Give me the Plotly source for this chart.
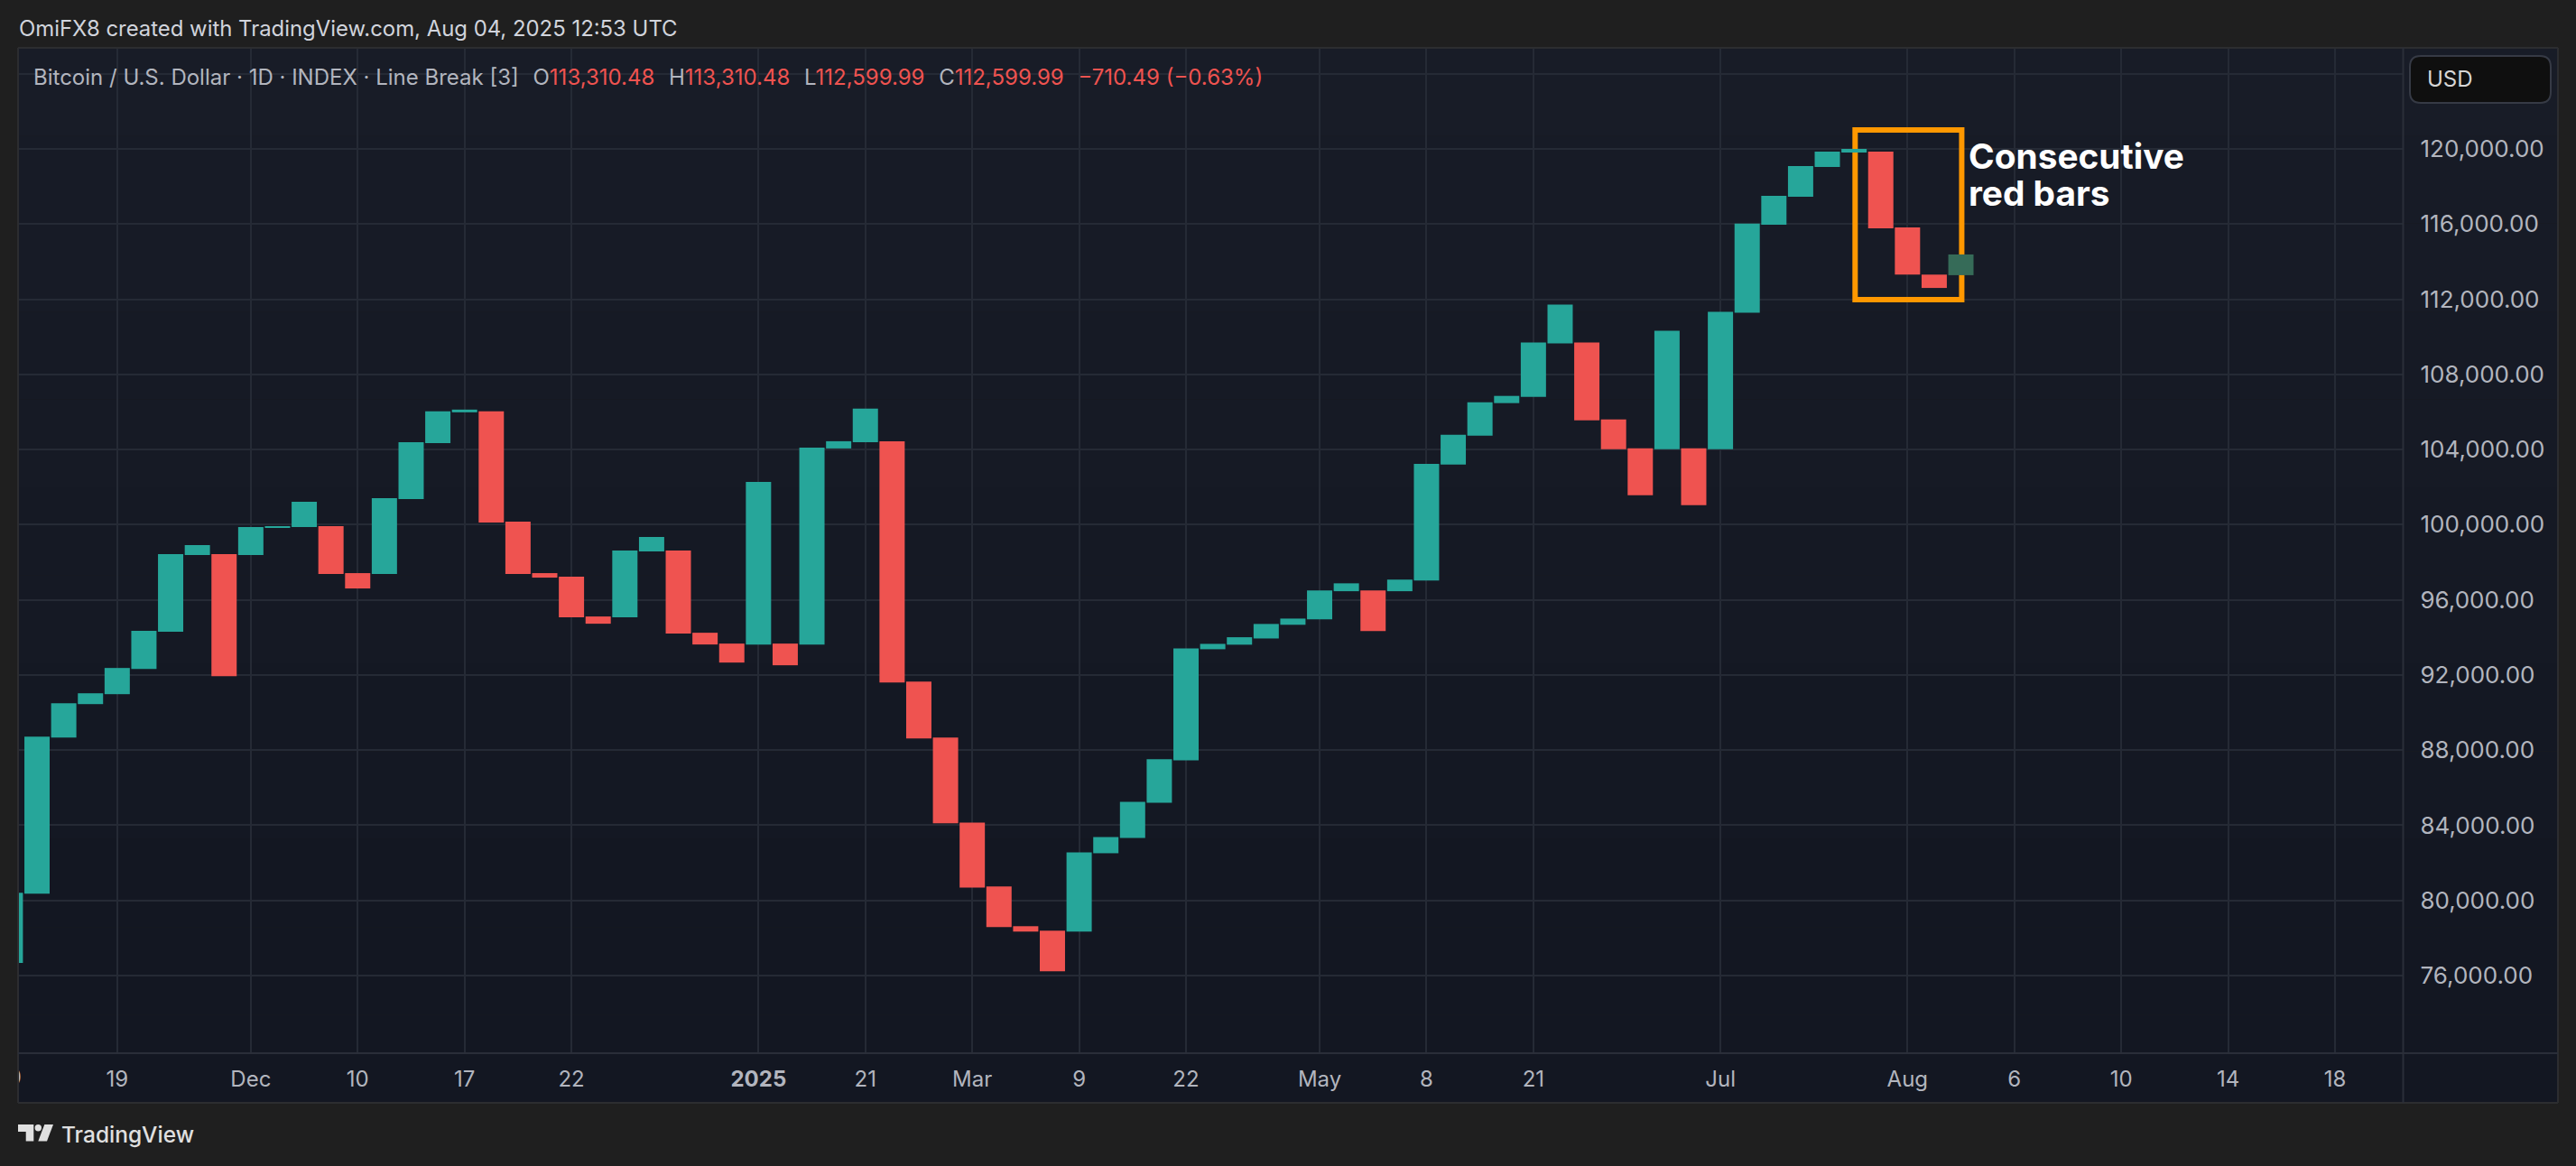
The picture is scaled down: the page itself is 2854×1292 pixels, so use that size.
import plotly.graph_objects as go

# line break bars, oldest first
bar_open = [76670, 80356, 88667, 90447, 90976, 92323, 94294, 98382, 98430, 98382,
            99825, 99873, 99921, 97420, 97372, 101364, 104345, 105980, 106028, 100161,
            97420, 97228, 95112, 95064, 98574, 98622, 94246, 93669, 93621, 93669,
            93621, 104057, 104393, 104441, 91646, 88667, 84142, 80744, 78625, 78382,
            78338, 82509, 83326, 85202, 87453, 93368, 93610, 93941, 94670, 94957,
            96457, 96502, 96457, 97031, 103200, 104738, 106470, 106806, 109644, 109692,
            105604, 104065, 104017, 104065, 104017, 111279, 115968, 117456, 119040, 119808,
            119856, 115824, 113310.48]
bar_close = [80404, 88717, 90495, 91024, 92371, 94342, 98430, 98911, 91938, 99873,
             99921, 101219, 97372, 96603, 101412, 104393, 106028, 106124, 100113, 97372,
             97180, 95064, 94727, 98622, 99344, 94198, 93621, 92659, 102277, 92515,
             104105, 104441, 106173, 91602, 88623, 84098, 80677, 78581, 78338, 76219,
             82553, 83370, 85246, 87519, 93412, 93654, 94008, 94714, 95001, 96502,
             96877, 94339, 97075, 103240, 104786, 106518, 106854, 109692, 111711, 105556,
             104017, 101564, 110317, 101035, 111327, 116030, 117504, 119088, 119856, 120000,
             115776, 113310.48, 112599.99]
projected_open = [113280]
projected_close = [114384]

date_tick_pos = [4, 9, 13, 17, 21, 28, 32, 36, 40, 44, 49, 53, 57, 64, 71, 75, 79, 83, 87]
date_tick_text = ['19', 'Dec', '10', '17', '22', '<b>2025</b>', '21', 'Mar', '9', '22',
                  'May', '8', '21', 'Jul', 'Aug', '6', '10', '14', '18']
cut_tick_pos = [0]
cut_tick_text = ['10']
price_ticks = [76000, 80000, 84000, 88000, 92000, 96000, 100000, 104000, 108000, 112000, 116000, 120000]
price_grid_only = [124000]

GREEN = '#26A69A'
RED = '#EF5350'
GHOST = '#366B58'
PAGE = '#1F1F1F'
TEXT = '#B2B5BE'
FONT = 'Inter'
W, H = 2854, 1292
X_RANGE = [0.29, 89.55]


def fx(px):
    return px / W


def fy(py):
    return 1 - py / H


up = [i for i in range(len(bar_open)) if bar_close[i] >= bar_open[i]]
down = [i for i in range(len(bar_open)) if bar_close[i] < bar_open[i]]

fig = go.Figure()
for idx, col in ((up, GREEN), (down, RED)):
    fig.add_trace(go.Bar(x=idx, base=[bar_open[i] for i in idx],
                         y=[bar_close[i] - bar_open[i] for i in idx],
                         width=0.945, marker=dict(color=col, line_width=0)))
fig.add_trace(go.Bar(x=[len(bar_open)], base=projected_open,
                     y=[projected_close[0] - projected_open[0]],
                     width=0.945, marker=dict(color=GHOST, line_width=0)))
# the first date label is cut in half by the frame, so it lives on a clipped axis of its own
fig.add_trace(go.Scatter(x=cut_tick_pos, y=[0.5], text=cut_tick_text, mode='text', xaxis='x2', yaxis='y2',
                         textposition='middle center', cliponaxis=True,
                         textfont=dict(family=FONT, size=24, color=TEXT)))

shapes = []
# chart background runs slightly lighter at the top
bands = 12
for b in range(bands):
    t = b / (bands - 1)
    c = 'rgb(%d,%d,%d)' % (24 - 5 * t, 28 - 5 * t, 39 - 5 * t)
    y0 = 53 + (1222 - 53) * b / bands
    y1 = 53 + (1222 - 53) * (b + 1) / bands
    shapes.append(dict(type='rect', xref='paper', yref='paper', layer='below', fillcolor=c, line_width=0,
                       x0=fx(20), x1=fx(2834), y0=fy(y0), y1=fy(y1)))
for x0, y0, x1, y1, c in [(20, 53, 2834, 53, '#2C2D30'), (20, 53, 20, 1222, '#2C2D30'),
                          (2834, 53, 2834, 1222, '#2C2D30'), (20, 1222, 2834, 1222, '#2C2D30'),
                          (20, 1167, 2834, 1167, '#2A2E39'), (2662.5, 53, 2662.5, 1222, '#2A2E39')]:
    shapes.append(dict(type='line', xref='paper', yref='paper', layer='above',
                       x0=fx(x0), x1=fx(x1), y0=fy(y0), y1=fy(y1), line=dict(color=c, width=2)))

# box around the consecutive red bars, bars sit on top of it
shapes.append(dict(type='rect', xref='x', yref='y', layer='between', x0=69.04, x1=73.03, y0=111975, y1=121009,
                   line=dict(color='#FF9800', width=6)))

# USD button
bx0, bx1, by0, by1, r = 2670, 2826, 62, 114, 12
path = 'M %f %f L %f %f Q %f %f %f %f L %f %f Q %f %f %f %f L %f %f Q %f %f %f %f L %f %f Q %f %f %f %f Z' % (
    fx(bx0 + r), fy(by0), fx(bx1 - r), fy(by0), fx(bx1), fy(by0), fx(bx1), fy(by0 + r),
    fx(bx1), fy(by1 - r), fx(bx1), fy(by1), fx(bx1 - r), fy(by1),
    fx(bx0 + r), fy(by1), fx(bx0), fy(by1), fx(bx0), fy(by1 - r),
    fx(bx0), fy(by0 + r), fx(bx0), fy(by0), fx(bx0 + r), fy(by0))
shapes.append(dict(type='path', xref='paper', yref='paper', path=path, fillcolor='#0F0F0F',
                   line=dict(color='#363A45', width=2)))

# TradingView logo
logo_t = [(20, 1246), (37.3, 1246), (37.3, 1264.5), (28.7, 1264.5), (28.7, 1254), (20, 1254)]
logo_slash = [(49.3, 1246), (59, 1246), (52, 1264.5), (42.3, 1264.5)]
for poly in (logo_t, logo_slash):
    p = 'M ' + ' L '.join('%f %f' % (fx(a), fy(b)) for a, b in poly) + ' Z'
    shapes.append(dict(type='path', xref='paper', yref='paper', path=p, fillcolor='#E0E0E0', line_width=0))
shapes.append(dict(type='circle', xref='paper', yref='paper', fillcolor='#E0E0E0', line_width=0,
                   x0=fx(38.6), x1=fx(46), y0=fy(1253.4), y1=fy(1246)))


def label(text, px, py, size, color=TEXT, anchor='left', weight=400, **kw):
    return dict(text=text, xref='paper', yref='paper', x=fx(px), y=fy(py), xanchor=anchor, yanchor='middle',
                showarrow=False, font=dict(family=FONT, size=size, color=color, weight=weight), **kw)


def red(s):
    return '<span style="color:%s">%s</span>' % (RED, s)


gap = '\u00a0\u00a0\u200a'
legend_text = ('Bitcoin / U.S. Dollar · 1D · INDEX · Line Break [3]' + gap
               + 'O' + red('113,310.48') + gap + 'H' + red('113,310.48') + gap
               + 'L' + red('112,599.99') + gap + 'C' + red('112,599.99') + gap
               + red('−710.49 (−0.63%)'))

annotations = [
    label('OmiFX8 created with TradingView.com, Aug 04, 2025 12:53 UTC', 19, 32, 23.9, color='#D1D4DC'),
    label(legend_text, 35, 86, 24),
    label('Consecutive', 2179, 172.5, 38.8, color='white', weight=700, height=38),
    label('red bars', 2179, 212.5, 38.8, color='white', weight=700, height=38),
    label('USD', 2687, 87, 24, color='#D6D6D6'),
    label('TradingView', 66, 1257, 24.5, color='#E0E0E0', weight=500),
]

fig.update_layout(
    width=W, height=H, autosize=False,
    margin=dict(l=0, r=0, t=0, b=0, pad=0),
    paper_bgcolor=PAGE, plot_bgcolor='rgba(0,0,0,0)',
    barmode='overlay', showlegend=False, hovermode=False,
    font=dict(family=FONT, color=TEXT, size=24),
    shapes=shapes, annotations=annotations,
    xaxis=dict(domain=[fx(20), fx(2662.5)], range=X_RANGE, tickmode='array',
               tickvals=date_tick_pos, ticktext=date_tick_text, showgrid=True, gridcolor='#252A35', gridwidth=2,
               zeroline=False, showline=False, ticks='', ticklabelstandoff=12),
    yaxis=dict(domain=[fy(1167), fy(53)], range=[71865, 125382], side='right', tickmode='array',
               tickvals=price_grid_only + price_ticks,
               ticktext=[''] + ['%s.00' % format(p, ',') for p in price_ticks],
               tickfont=dict(size=26), showgrid=True, gridcolor='#252A35', gridwidth=2,
               zeroline=False, showline=False, ticks='', ticklabelstandoff=18),
    xaxis2=dict(domain=[fx(20), fx(2662.5)], range=X_RANGE, visible=False),
    yaxis2=dict(domain=[fy(1222), fy(1169)], range=[0, 1], visible=False),
)

fig.write_html("out.html", config=dict(displayModeBar=False), post_script="document.body.style.margin='0';")
